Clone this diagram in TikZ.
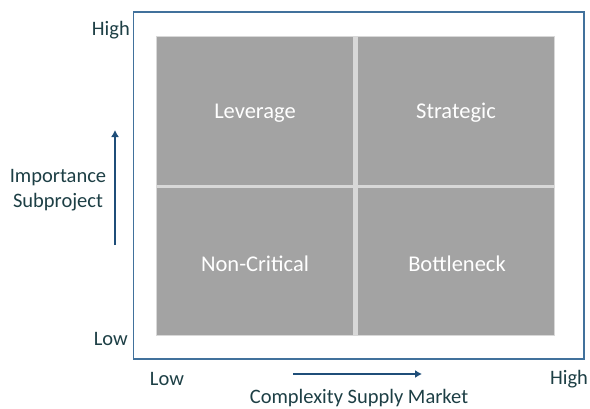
\documentclass[tikz,border=0pt]{standalone}
\usepackage{fontspec}
\setmainfont{Carlito}
\usepackage{tikz}
\usetikzlibrary{arrows.meta}
\definecolor{axistext}{HTML}{1D3F45}
\definecolor{axisblue}{HTML}{1F4E79}
\definecolor{framecol}{HTML}{41719C}
\definecolor{quadgray}{HTML}{A3A3A3}
\definecolor{gapgray}{HTML}{D8D8D8}

\begin{document}
\begin{tikzpicture}[x=1pt,y=-1pt,
  lbl/.style={text=axistext,font=\fontsize{20.5}{25}\selectfont,inner sep=0pt},
  quad/.style={fill=quadgray,draw=none},
  quadlbl/.style={text=white,font=\fontsize{22.5}{27}\selectfont,inner sep=0pt},
  axis/.style={draw=axisblue,line width=1.3pt,-{Latex[length=7pt,width=8pt]}}]
\useasboundingbox (0,0) rectangle (590,408);
\draw [framecol,line width=1.4pt] (133.5,12) rectangle (584,359);
\fill [gapgray] (156,36) rectangle (555,336);
\fill [quad] (157,37) rectangle (353,185);
\fill [quad] (358,37) rectangle (554,185);
\fill [quad] (157,188) rectangle (353,335);
\fill [quad] (358,188) rectangle (554,335);
\node [quadlbl] (lev) at (255,113) {Leverage};
\node [quadlbl] (str) at (456,113) {Strategic};
\node [quadlbl] (ncr) at (255,264) {Non-Critical};
\node [quadlbl] (bot) at (457,264) {Bottleneck};
\node [lbl,anchor=east] (yhigh) at (130,30) {High};
\node [lbl,anchor=east] (ylow) at (128,339) {Low};
\node [lbl,align=center] (ytitle) at (58,190) {Importance\\Subproject};
\node [lbl] (xlow) at (167,379) {Low};
\node [lbl] (xhigh) at (569,379) {High};
\node [lbl] (xtitle) at (359,398) {Complexity Supply Market};
\coordinate (ybot) at (115,245);
\coordinate (ytop) at (115,130);
\coordinate (xleft) at (293,374);
\coordinate (xright) at (422,374);
\draw [axis] (ybot) -- (ytop);
\draw [axis] (xleft) -- (xright);
\end{tikzpicture}
\end{document}
